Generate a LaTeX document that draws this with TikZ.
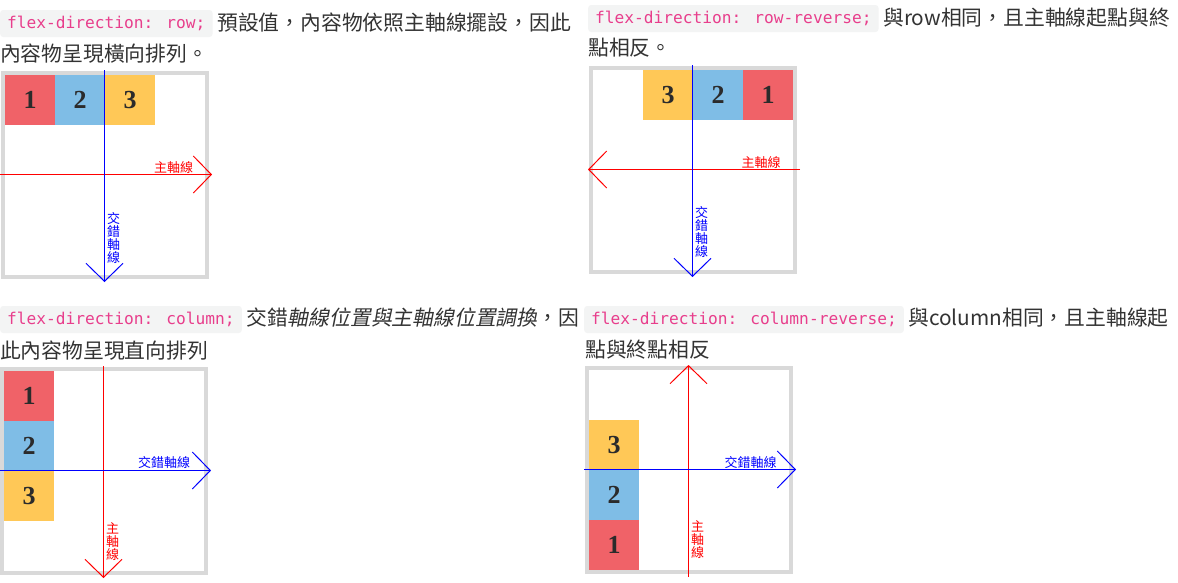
\documentclass[tikz,border=0pt]{standalone}
\usepackage{fontspec}
\setmainfont{Noto Sans CJK TC}
\newfontfamily\codefont{DejaVu Sans Mono}
\newfontfamily\numfont{Liberation Serif}
\newfontfamily\slantfont[FakeSlant=0.2]{Noto Sans CJK TC}
\usetikzlibrary{arrows.meta,positioning}

\definecolor{itemred}{HTML}{F06268}
\definecolor{itemblue}{HTML}{7FBDE6}
\definecolor{itemyellow}{HTML}{FFC857}
\definecolor{framegray}{HTML}{D9D9D9}
\definecolor{codebg}{HTML}{F3F4F4}
\definecolor{codepink}{HTML}{E83E8C}
\definecolor{textgray}{HTML}{333333}
\definecolor{numgray}{HTML}{2B2B2B}

\begin{document}
\begin{tikzpicture}[x=1pt, y=-1pt, >={Straight Barb[length=18pt,width=37pt]},
  flexbox/.style={draw=framegray, line width=4pt, minimum size=204pt, inner sep=0pt, outer sep=0pt},
  item/.style={minimum size=50pt, inner sep=0pt, outer sep=0pt, text=numgray,
    font=\numfont\bfseries\fontsize{26}{26}\selectfont},
  code/.style={fill=codebg, rounded corners=3pt, minimum height=27pt, inner xsep=7pt, inner ysep=0pt,
    anchor=west, text=codepink, font=\codefont\fontsize{16.2}{20}\selectfont},
  txt/.style={anchor=base west, inner sep=0pt, text=textgray, font=\fontsize{20.8}{31}\selectfont},
  mainax/.style={draw=red, line width=1pt, ->},
  crossax/.style={draw=blue, line width=1pt, ->},
  axlbl/.style={inner sep=0pt, align=center, font=\fontsize{13}{13}\selectfont}]
  \useasboundingbox[fill=white] (0,0) rectangle (1178,582);

  % row
  \node[code] (c1) at (0,23.5) {flex-direction: row;};
  \node[txt] (t1a) at (217,30.5) {預設值，內容物依照主軸線擺設，因此};
  \node[txt] (t1b) at (0,61.5) {內容物呈現橫向排列。};
  \node[flexbox] (f1) at (105,175) {};
  \node[item, fill=itemred, anchor=north west] (a1) at ([shift={(2,2)}]f1.north west) {1};
  \node[item, fill=itemblue] (a2) [right=0pt of a1] {2};
  \node[item, fill=itemyellow] (a3) [right=0pt of a2] {3};
  \coordinate (m1s) at (0,174.5);
  \coordinate (m1e) at (212,174.5);
  \coordinate (x1s) at (104.5,70);
  \coordinate (x1e) at (104.5,282);
  \draw[mainax] (m1s) -- (m1e);
  \draw[crossax] (x1s) -- (x1e);
  \node[axlbl, text=red] (ml1) at (173.5,168) {主軸線};
  \node[axlbl, text=blue] (xl1) at (113.5,238.5) {交\\錯\\軸\\線};

  % row-reverse
  \node[code] (c2) at (588,18.5) {flex-direction: row-reverse;};
  \node[txt] (t2a) at (883,25) {與row相同，且主軸線起點與終};
  \node[txt] (t2b) at (588,55.5) {點相反。};
  \node[flexbox] (f2) at (693,170) {};
  \node[item, fill=itemred, anchor=north east] (b1) at ([shift={(-2,2)}]f2.north east) {1};
  \node[item, fill=itemblue] (b2) [left=0pt of b1] {2};
  \node[item, fill=itemyellow] (b3) [left=0pt of b2] {3};
  \coordinate (m2s) at (800,169.5);
  \coordinate (m2e) at (588,169.5);
  \coordinate (x2s) at (692.5,65);
  \coordinate (x2e) at (692.5,277);
  \draw[mainax] (m2s) -- (m2e);
  \draw[crossax] (x2s) -- (x2e);
  \node[axlbl, text=red] (ml2) at (761,163) {主軸線};
  \node[axlbl, text=blue] (xl2) at (701.5,232.5) {交\\錯\\軸\\線};

  % column
  \node[code] (c3) at (0,319.5) {flex-direction: column;};
  \node[txt] (t3a) at (246,325.5) {交錯{\slantfont 軸線位置與主軸線位置調換}，因};
  \node[txt] (t3b) at (0,358.5) {此內容物呈現直向排列};
  \node[flexbox] (f3) at (104,471) {};
  \node[item, fill=itemred, anchor=north west] (d1) at ([shift={(2,2)}]f3.north west) {1};
  \node[item, fill=itemblue] (d2) [below=0pt of d1] {2};
  \node[item, fill=itemyellow] (d3) [below=0pt of d2] {3};
  \coordinate (m3s) at (103.5,366);
  \coordinate (m3e) at (103.5,578);
  \coordinate (x3s) at (0,470.5);
  \coordinate (x3e) at (211,470.5);
  \draw[mainax] (m3s) -- (m3e);
  \draw[crossax] (x3s) -- (x3e);
  \node[axlbl, text=blue] (xl3) at (164,463) {交錯軸線};
  \node[axlbl, text=red] (ml3) at (112.5,541.5) {主\\軸\\線};

  % column-reverse
  \node[code] (c4) at (584,319.5) {flex-direction: column-reverse;};
  \node[txt] (t4a) at (908,325) {與column相同，且主軸線起};
  \node[txt] (t4b) at (585,357) {點與終點相反};
  \node[flexbox] (f4) at (689,470) {};
  \node[item, fill=itemred, anchor=south west] (e1) at ([shift={(2,-2)}]f4.south west) {1};
  \node[item, fill=itemblue] (e2) [above=0pt of e1] {2};
  \node[item, fill=itemyellow] (e3) [above=0pt of e2] {3};
  \coordinate (m4s) at (688.5,577);
  \coordinate (m4e) at (688.5,365);
  \coordinate (x4s) at (584,469.5);
  \coordinate (x4e) at (796,469.5);
  \draw[mainax] (m4s) -- (m4e);
  \draw[crossax] (x4s) -- (x4e);
  \node[axlbl, text=blue] (xl4) at (750.5,463) {交錯軸線};
  \node[axlbl, text=red] (ml4) at (697.5,540) {主\\軸\\線};
\end{tikzpicture}
\end{document}
